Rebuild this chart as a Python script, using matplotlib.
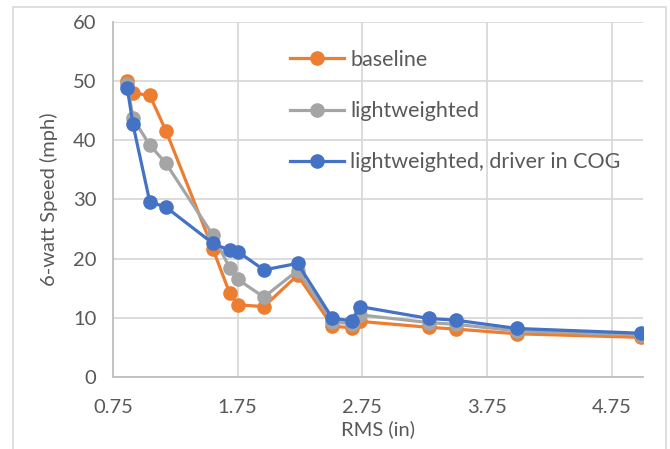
import matplotlib
matplotlib.use('Agg')
import matplotlib.pyplot as plt
from matplotlib.patches import Rectangle

# RMS (in) for each test point
rms = [0.865, 0.91, 1.045, 1.175, 1.55, 1.685, 1.75, 1.96,
       2.23, 2.51, 2.67, 2.73, 3.28, 3.50, 3.99, 4.98]

# 6-watt speed (mph) for each configuration
baseline = [50.0, 48.0, 47.6, 41.6, 21.7, 14.2, 12.2, 11.9,
            17.2, 8.6, 8.3, 9.4, 8.4, 8.1, 7.3, 6.7]
lightweighted = [49.6, 43.7, 39.2, 36.1, 24.0, 18.5, 16.5, 13.5,
                 18.0, 9.3, 9.0, 10.5, 9.2, 8.9, 7.8, 7.1]
driver_cog = [48.8, 42.7, 29.6, 28.7, 22.6, 21.4, 21.2, 18.1,
              19.2, 9.9, 9.5, 11.9, 9.9, 9.6, 8.2, 7.4]

series_labels = ['baseline', 'lightweighted', 'lightweighted, driver in COG']
x_ticks = [0.75, 1.75, 2.75, 3.75, 4.75]
y_ticks = [0, 10, 20, 30, 40, 50, 60]

colors = ['#ED7D31', '#A5A5A5', '#4472C4']
text_color = '#595959'

plt.rcParams['font.family'] = ['Lato', 'DejaVu Sans']

W, H = 670, 449
fig = plt.figure(figsize=(W / 100, H / 100), dpi=100)
ax = fig.add_axes([113 / W, 1 - 377 / H, (643 - 113) / W, (377 - 22) / H])

# chart area border
fig.patches.append(Rectangle((13 / W, -0.05), (666 - 13) / W, (1 - 7 / H) + 0.05,
                             transform=fig.transFigure, fill=False,
                             edgecolor='#D9D9D9', linewidth=1.2))

for ys, lab, c in zip([baseline, lightweighted, driver_cog], series_labels, colors):
    ax.plot(rms, ys, color=c, linewidth=2.3, marker='o', markersize=9.5,
            label=lab, zorder=3)

ax.set_xlim(0.75, 5.0)
ax.set_ylim(0, 60)
ax.set_xticks(x_ticks)
ax.set_xticklabels([f'{t:.2f}' for t in x_ticks])
ax.set_yticks(y_ticks)
ax.grid(True, color='#D9D9D9', linewidth=1.3, zorder=0)
ax.set_axisbelow(True)

for s in ['top', 'right']:
    ax.spines[s].set_visible(False)
for s in ['left', 'bottom']:
    ax.spines[s].set_color('#BFBFBF')
    ax.spines[s].set_linewidth(1.3)

ax.tick_params(length=0, labelsize=14.5, colors=text_color, pad=12)
ax.tick_params(axis='x', pad=16)
ax.set_xlabel('RMS (in)', fontsize=14.5, color=text_color, labelpad=3)
ax.set_ylabel('6-watt Speed (mph)', fontsize=14.5, color=text_color, labelpad=11)

ax.legend(loc='upper left', bbox_to_anchor=(290 / W, 1 - 50 / H),
          bbox_transform=fig.transFigure, frameon=False, fontsize=15.5,
          labelcolor=text_color, handlelength=2.5, handletextpad=0.3,
          labelspacing=1.45, borderaxespad=0, borderpad=0)

fig.savefig('out.png', dpi=100)
